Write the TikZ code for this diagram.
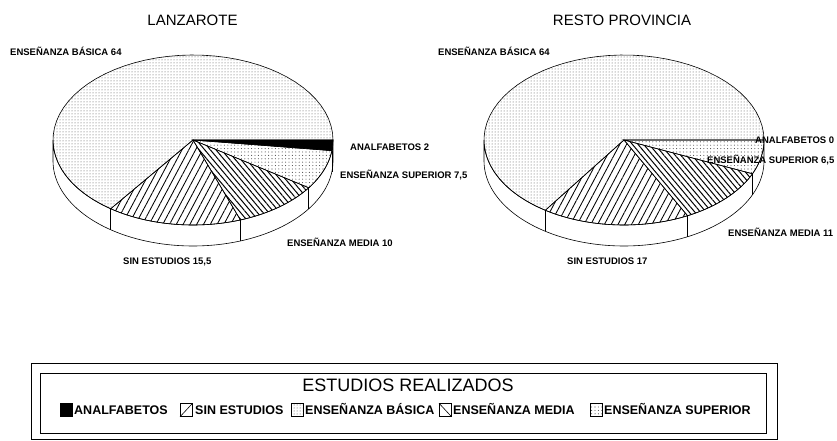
\documentclass[tikz,border=0pt]{standalone}
\usepackage{fontspec}
\setmainfont{Liberation Sans}
\usetikzlibrary{patterns.meta}
\tikzset{
  lbl/.style={anchor=base west, inner sep=0pt, font=\bfseries\fontsize{9.5}{11}\selectfont},
  legtxt/.style={anchor=base west, inner sep=0pt, font=\bfseries\fontsize{12.5}{14}\selectfont},
  ttl/.style={anchor=base, inner sep=0pt, font=\fontsize{15}{17}\selectfont},
  basica/.style={pattern={Dots[distance=3pt, radius=0.5pt]}, pattern color=black!70},
  superior/.style={pattern={Dots[distance=3.4pt, radius=0.55pt]}, pattern color=black!70},
  media/.style={pattern={Lines[angle=-50, distance=4.3pt, line width=1pt]}},
  sinest/.style={pattern={Lines[angle=62, distance=6pt, line width=0.85pt]}},
  analf/.style={fill=black},
  edge/.style={line width=0.6pt, draw=black},
  legbox/.style={draw=black, line width=0.6pt, minimum width=12pt, minimum height=13pt, inner sep=0pt, anchor=west},
}
% cx cy a1 a2 style
\newcommand\pslice[5]{%
  \filldraw[#5, edge] (#1,#2) -- plot[domain=#3:#4, samples=50] ({#1+140*cos(\x)},{#2+85*sin(\x)}) -- cycle;
}
% cx cy
\newcommand\pwall[2]{%
  \filldraw[fill=white, edge] plot[domain=0:180, samples=80] ({#1+140*cos(\x)},{#2+85*sin(\x)})
     -- plot[domain=180:0, samples=80] ({#1+140*cos(\x)},{#2+21+85*sin(\x)}) -- cycle;
}
% cx cy angle
\newcommand\pvline[3]{%
  \draw[edge] ({#1+140*cos(#3)},{#2+85*sin(#3)}) -- ++(0,21);
}
\begin{document}
\begin{tikzpicture}[x=1pt,y=-1pt]
\useasboundingbox (0,0) rectangle (837,441);

% ---------- LANZAROTE ----------
\node[ttl] (t1) at (192.5,25.4) {LANZAROTE};
\pwall{193}{140}
\pvline{193}{140}{7.2}
\pvline{193}{140}{34.2}
\pvline{193}{140}{70.2}
\pvline{193}{140}{126}
\pslice{193}{140}{126}{360}{basica}
\pslice{193}{140}{0}{7.2}{analf}
\pslice{193}{140}{7.2}{34.2}{superior}
\pslice{193}{140}{34.2}{70.2}{media}
\pslice{193}{140}{70.2}{126}{sinest}

\node[lbl] (l1b) at (10,55.4) {ENSEÑANZA BÁSICA 64};
\node[lbl] (l1a) at (350,150.4) {ANALFABETOS 2};
\node[lbl] (l1s) at (340,178.4) {ENSEÑANZA SUPERIOR 7,5};
\node[lbl] (l1m) at (287,246.4) {ENSEÑANZA MEDIA 10};
\node[lbl] (l1e) at (123,264.4) {SIN ESTUDIOS 15,5};

% ---------- RESTO PROVINCIA ----------
\node[ttl] (t2) at (622,25.4) {RESTO PROVINCIA};
\pwall{624}{140}
\pvline{624}{140}{23.4}
\pvline{624}{140}{63}
\pvline{624}{140}{124.2}
\pslice{624}{140}{124.2}{360}{basica}
\pslice{624}{140}{0}{23.4}{superior}
\pslice{624}{140}{23.4}{63}{media}
\pslice{624}{140}{63}{124.2}{sinest}

\node[lbl] (l2b) at (438,55.4) {ENSEÑANZA BÁSICA 64};
\node[lbl] (l2a) at (755,143.4) {ANALFABETOS 0};
\node[lbl] (l2s) at (707,163.4) {ENSEÑANZA SUPERIOR 6,5};
\node[lbl] (l2m) at (728,236.4) {ENSEÑANZA MEDIA 11};
\node[lbl] (l2e) at (567,264.4) {SIN ESTUDIOS 17};

% ---------- LEGEND ----------
\draw[line width=0.8pt] (31,363) rectangle (777,439);
\draw[line width=1pt] (40,373) rectangle (766,433);
\node[anchor=base, inner sep=0pt, font=\fontsize{18}{20}\selectfont] (legt) at (408,391.4) {ESTUDIOS REALIZADOS};

\node[legbox, fill=black] (k1) at (60,410) {};
\node[legtxt] (k1t) at (74,414.5) {ANALFABETOS};
\node[legbox] (k2) at (180,410) {};
\draw[edge] (k2.south west) -- (k2.north east);
\node[legtxt] (k2t) at (195,414.5) {SIN ESTUDIOS};
\node[legbox, basica] (k3) at (291,410) {};
\node[legtxt] (k3t) at (305,414.5) {ENSEÑANZA BÁSICA};
\node[legbox] (k4) at (439,410) {};
\draw[edge] (k4.north west) -- (k4.south east);
\node[legtxt] (k4t) at (453,414.5) {ENSEÑANZA MEDIA};
\node[legbox, superior] (k5) at (590,410) {};
\node[legtxt] (k5t) at (604,414.5) {ENSEÑANZA SUPERIOR};
\end{tikzpicture}
\end{document}
